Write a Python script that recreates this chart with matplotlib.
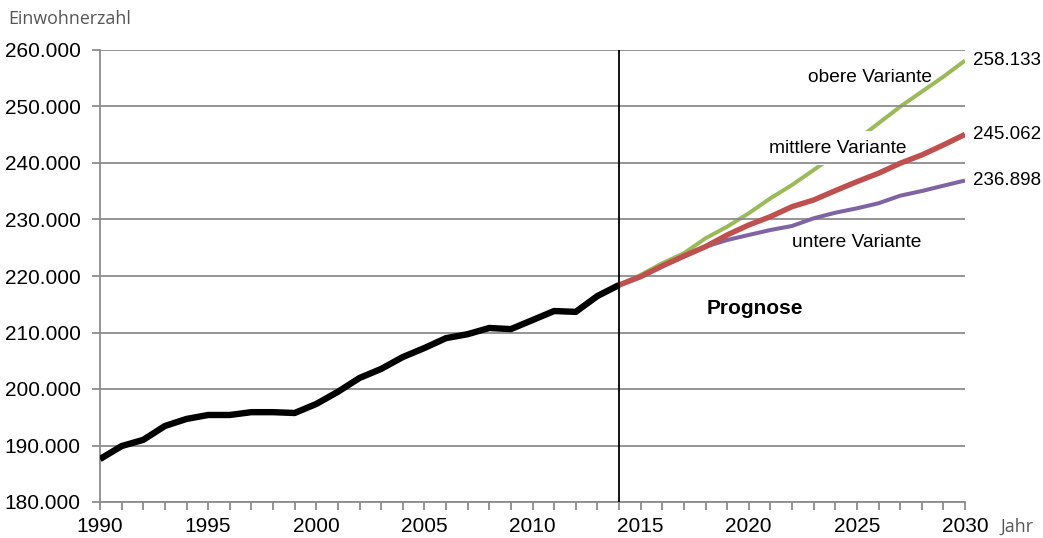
import matplotlib
matplotlib.use("Agg")
import matplotlib.pyplot as plt
from matplotlib.ticker import FuncFormatter, MultipleLocator

# ---- data ----
years_hist = list(range(1990, 2015))
pop_hist = [187600, 189900, 191000, 193450, 194700, 195400, 195400, 195900,
            195900, 195750, 197350, 199500, 201950, 203550, 205650, 207250,
            209000, 209700, 210800, 210600, 212200, 213800, 213650, 216450,
            218400]

years_proj = list(range(2014, 2031))
pop_obere = [218400, 220180, 222250, 224020, 226670, 228730, 231100, 233750,
             236110, 238760, 241420, 244070, 247030, 249960, 252620, 255270,
             258133]
pop_mittlere = [218400, 219880, 221770, 223540, 225190, 227260, 229030, 230500,
                232270, 233450, 235100, 236690, 238180, 239950, 241420, 243190,
                245062]
pop_untere = [218400, 219890, 221770, 223420, 225190, 226370, 227260, 228140,
              228850, 230210, 231200, 231980, 232870, 234210, 235040, 235980,
              236898]

end_labels = ["258.133", "245.062", "236.898"]
y_ticks = list(range(180000, 260001, 10000))
x_major = list(range(1990, 2031, 5))

plt.rcParams['font.family'] = ['Liberation Sans', 'DejaVu Sans']

fig = plt.figure(figsize=(10.43, 5.38), dpi=100)
ax = fig.add_axes([100/1043, 1 - 502/538, 865/1043, 452/538])
ax.set_axisbelow(False)  # grid zorder 2.5

grid_c = '#8c8c8c'
ax.set_xlim(1990, 2030)
ax.set_ylim(180000, 260000)
ax.set_yticks(y_ticks)
ax.yaxis.set_major_formatter(FuncFormatter(lambda v, p: f"{int(v):,}".replace(",", ".")))
ax.set_xticks(x_major)
ax.xaxis.set_minor_locator(MultipleLocator(1))
ax.grid(axis='y', color=grid_c, lw=1.3)
for s in ['top', 'right']:
    ax.spines[s].set_visible(False)
for s in ['left', 'bottom']:
    ax.spines[s].set_color(grid_c)
    ax.spines[s].set_linewidth(1.3)
ax.tick_params(axis='y', direction='out', length=6, width=1.3, color=grid_c,
               labelsize=15, pad=8, labelcolor='black')
ax.tick_params(axis='x', which='both', direction='out', length=6, width=1.3,
               color=grid_c, labelsize=15, pad=5, labelcolor='black')

# lines
c_green, c_red, c_purple = '#9BBB59', '#C0504D', '#8064A2'
ax.plot(years_proj, pop_obere, color=c_green, lw=2.9, zorder=2.3, solid_capstyle='butt')
ax.plot(years_proj, pop_untere, color=c_purple, lw=2.9, zorder=3, solid_capstyle='butt')
ax.plot(years_proj, pop_mittlere, color=c_red, lw=3.9, zorder=4, solid_capstyle='butt')
ax.plot(years_hist, pop_hist, color='black', lw=4.6, zorder=5, solid_capstyle='butt')

ax.axvline(2014, color='black', lw=1.3, zorder=6, ymin=0, ymax=1)

# annotations
ax.text(2025.6, 255200, "obere Variante", fontsize=13.8, ha='center', va='center')
ax.text(2024.1, 242650, "mittlere Variante", fontsize=13.8, ha='center', va='center',
        zorder=2.4, bbox=dict(boxstyle='square,pad=0.42', fc='white', ec='none'))
ax.text(2025.0, 226000, "untere Variante", fontsize=13.8, ha='center', va='center')
ax.text(2020.3, 214300, "Prognose", fontsize=15, fontweight='bold', ha='center', va='center')

for val, lab in zip([pop_obere[-1], pop_mittlere[-1], pop_untere[-1]], end_labels):
    ax.text(2030.35, val, lab, fontsize=13.5, ha='left', va='center', clip_on=False)

fig.text(8/1043, 1 - 19/538, "Einwohnerzahl", fontsize=12.8, color='#555555',
         family=['Open Sans', 'DejaVu Sans'], ha='left', va='center')
fig.text(1000/1043, 1 - 527/538, "Jahr", fontsize=12.8, color='#555555',
         family=['Open Sans', 'DejaVu Sans'], ha='left', va='center')

fig.savefig("out.png", dpi=100, facecolor='white')
